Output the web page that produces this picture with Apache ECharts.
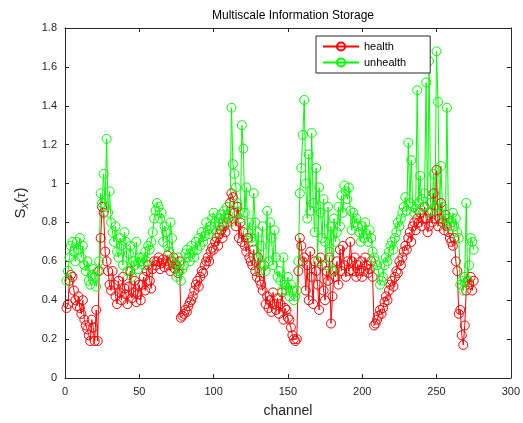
<!DOCTYPE html>
<html>
<head>
<meta charset="utf-8">
<script src="https://cdn.jsdelivr.net/npm/echarts@6/dist/echarts.min.js"></script>
<style>
  html, body { margin: 0; padding: 0; background: #fff; }
  #chart { width: 523px; height: 423px; }
</style>
</head>
<body>
<div id="chart"></div>
<script>
// values per channel, channel = index + 1
var health = [
  0.36, 0.38, 0.50, 0.53, 0.52, 0.45, 0.40, 0.37, 0.42, 0.36,
  0.33, 0.40, 0.30, 0.27, 0.25, 0.22, 0.19, 0.30, 0.26, 0.19,
  0.35, 0.19, 0.55, 0.72, 0.88, 0.85, 0.65, 0.60, 0.55, 0.48,
  0.45, 0.55, 0.48, 0.42, 0.38, 0.50, 0.44, 0.40, 0.52, 0.46,
  0.43, 0.38, 0.47, 0.55, 0.41, 0.44, 0.50, 0.39, 0.43, 0.48,
  0.40, 0.48, 0.52, 0.45, 0.55, 0.58, 0.50, 0.46, 0.56, 0.60,
  0.58, 0.60, 0.62, 0.56, 0.59, 0.61, 0.57, 0.60, 0.63, 0.58,
  0.55, 0.60, 0.62, 0.56, 0.58, 0.54, 0.60, 0.31, 0.32, 0.33,
  0.35, 0.34, 0.37, 0.39, 0.40, 0.42, 0.45, 0.48, 0.50, 0.47,
  0.52, 0.55, 0.54, 0.58, 0.60, 0.62, 0.60, 0.65, 0.67, 0.66,
  0.70, 0.72, 0.68, 0.74, 0.76, 0.72, 0.78, 0.75, 0.80, 0.82,
  0.90, 0.95, 0.93, 0.85, 0.78, 0.88, 0.72, 0.80, 0.70, 0.75,
  0.68, 0.65, 0.72, 0.62, 0.60, 0.58, 0.66, 0.55, 0.52, 0.62,
  0.50, 0.48, 0.45, 0.58, 0.38, 0.42, 0.36, 0.40, 0.34, 0.44,
  0.38, 0.35, 0.41, 0.33, 0.38, 0.44, 0.30, 0.36, 0.35, 0.31,
  0.30, 0.26, 0.22, 0.20, 0.19, 0.20, 0.55, 0.72, 0.68, 0.60,
  0.62, 0.45, 0.58, 0.40, 0.65, 0.52, 0.38, 0.60, 0.55, 0.48,
  0.35, 0.62, 0.58, 0.45, 0.40, 0.55, 0.50, 0.62, 0.28, 0.42,
  0.55, 0.52, 0.60, 0.48, 0.66, 0.55, 0.68, 0.58, 0.52, 0.60,
  0.55, 0.70, 0.60, 0.55, 0.62, 0.52, 0.58, 0.55, 0.60, 0.52,
  0.55, 0.62, 0.58, 0.54, 0.56, 0.60, 0.52, 0.27, 0.28, 0.30,
  0.32, 0.35, 0.33, 0.36, 0.39, 0.42, 0.40, 0.45, 0.48, 0.50,
  0.47, 0.52, 0.55, 0.54, 0.60, 0.58, 0.62, 0.65, 0.68, 0.66,
  0.72, 0.75, 0.70, 0.78, 0.80, 0.76, 0.82, 0.80, 0.85, 0.78,
  0.82, 0.88, 0.82, 0.75, 0.78, 0.85, 0.80, 0.95, 0.82, 1.07,
  0.78, 0.82, 0.90, 0.80, 0.76, 0.84, 0.78, 0.75, 0.72, 0.70,
  0.68, 0.72, 0.60, 0.55, 0.33, 0.35, 0.22, 0.17, 0.27, 0.45,
  0.50, 0.48, 0.52, 0.45, 0.50
];
var unhealth = [
  0.50, 0.55, 0.62, 0.68, 0.70, 0.65, 0.60, 0.70, 0.66, 0.72,
  0.62, 0.68, 0.58, 0.55, 0.60, 0.50, 0.48, 0.53, 0.56, 0.52,
  0.47, 0.55, 0.60, 0.95, 0.90, 1.05, 0.88, 1.23, 0.85, 0.96,
  0.80, 0.75, 0.70, 0.78, 0.65, 0.62, 0.72, 0.68, 0.58, 0.75,
  0.70, 0.55, 0.64, 0.68, 0.52, 0.60, 0.58, 0.70, 0.56, 0.62,
  0.60, 0.62, 0.58, 0.65, 0.60, 0.68, 0.66, 0.70, 0.75, 0.82,
  0.86, 0.90, 0.88, 0.82, 0.85, 0.70, 0.78, 0.75, 0.68, 0.65,
  0.80, 0.72, 0.60, 0.58, 0.52, 0.62, 0.55, 0.50, 0.56, 0.58,
  0.64, 0.66, 0.62, 0.60, 0.68, 0.65, 0.62, 0.70, 0.66, 0.72,
  0.68, 0.75, 0.70, 0.73, 0.80, 0.76, 0.74, 0.78, 0.82, 0.85,
  0.80, 0.75, 0.78, 0.82, 0.84, 0.80, 0.86, 0.82, 0.88, 0.84,
  0.80, 1.39, 1.10, 1.05, 0.98, 0.90, 0.85, 0.82, 1.30, 1.18,
  0.85, 0.98, 0.75, 0.80, 0.72, 0.70, 0.95, 0.80, 0.62, 0.75,
  0.55, 0.68, 0.78, 0.58, 0.55, 0.86, 0.60, 0.80, 0.72, 0.58,
  0.76, 0.62, 0.52, 0.55, 0.50, 0.45, 0.62, 0.48, 0.45, 0.52,
  0.42, 0.48, 0.45, 0.40, 0.42, 0.45, 0.60, 0.95, 1.08, 1.25,
  1.43, 1.00, 0.82, 1.15, 0.86, 1.26, 0.90, 0.75, 1.08, 0.60,
  0.98, 0.85, 0.72, 0.92, 0.70, 0.58, 0.88, 0.65, 0.78, 0.55,
  0.82, 0.70, 0.75, 0.88, 0.78, 0.94, 0.85, 0.99, 0.96, 0.92,
  0.98, 0.86, 0.76, 0.85, 0.80, 0.82, 0.78, 0.75, 0.70, 0.78,
  0.72, 0.80, 0.74, 0.70, 0.76, 0.72, 0.65, 0.62, 0.60, 0.58,
  0.55, 0.48, 0.50, 0.52, 0.58, 0.62, 0.60, 0.65, 0.68, 0.70,
  0.66, 0.72, 0.75, 0.80, 0.78, 0.82, 0.85, 0.88, 0.93, 0.86,
  1.21, 0.90, 1.12, 0.88, 0.85, 0.87, 1.48, 0.90, 1.04, 0.92,
  0.88, 0.95, 1.52, 0.85, 1.63, 0.90, 0.86, 1.05, 0.88, 1.68,
  1.42, 0.85, 1.09, 0.88, 0.80, 0.82, 1.39, 0.82, 0.78, 0.80,
  0.85, 0.78, 0.82, 0.75, 0.72, 0.48, 0.50, 0.45, 0.52, 0.90,
  0.50, 0.58, 0.72, 0.70, 0.66
];
var seriesNames = ['health', 'unhealth'];
var xTicks = [0, 50, 100, 150, 200, 250, 300];
var yTicks = [0, 0.2, 0.4, 0.6, 0.8, 1, 1.2, 1.4, 1.6, 1.8];

var ink = '#262626';
var red = '#ff0000';
var green = '#00ff00';

function pairs(arr) {
  return arr.map(function(v, i) { return [i + 1, v]; });
}

var chart = echarts.init(document.getElementById('chart'), null, { renderer: 'canvas' });

var baseAxis = {
  axisLine: { show: true, onZero: false, lineStyle: { color: ink, width: 1 } },
  axisTick: { show: true, inside: true, length: 4, lineStyle: { color: ink } },
  splitLine: { show: false }
};

function lineSeries(name, values, color) {
  return {
    name: name,
    type: 'line',
    data: pairs(values),
    symbol: 'circle',
    symbolSize: 9,
    showAllSymbol: true,
    color: color,
    lineStyle: { color: color, width: 1 },
    itemStyle: { color: 'rgba(255,255,255,0)', borderColor: color, borderWidth: 1 }
  };
}

chart.setOption({
  animation: false,
  title: {
    text: 'Multiscale Information Storage',
    left: 288,
    top: 5,
    textAlign: 'center',
    textStyle: { fontFamily: 'Liberation Sans, Arial', fontSize: 12, fontWeight: 'normal', color: '#000' }
  },
  grid: { left: 65, right: 12, top: 28, bottom: 43 },
  legend: {
    data: seriesNames,
    orient: 'vertical',
    left: 316,
    top: 36,
    backgroundColor: '#fff',
    borderColor: ink,
    borderWidth: 1,
    padding: [5, 24, 5, 6],
    itemGap: 5,
    itemWidth: 36,
    itemHeight: 10,
    textStyle: { fontFamily: 'Liberation Sans, Arial', fontSize: 11, color: '#000' }
  },
  xAxis: [
    Object.assign({}, baseAxis, {
      type: 'value', min: xTicks[0], max: xTicks[xTicks.length - 1], interval: 50,
      name: 'channel', nameLocation: 'middle', nameGap: 26,
      nameTextStyle: { fontFamily: 'Liberation Sans, Arial', fontSize: 14, color: ink },
      axisLabel: { color: ink, fontFamily: 'Liberation Sans, Arial', fontSize: 11, margin: 8 }
    }),
    Object.assign({}, baseAxis, {
      type: 'value', position: 'top', min: 0, max: 300, interval: 50,
      axisLabel: { show: false }
    })
  ],
  yAxis: [
    Object.assign({}, baseAxis, {
      type: 'value', min: yTicks[0], max: yTicks[yTicks.length - 1], interval: 0.2,
      name: '{s|S}{sub|x}{s|(}{t|τ}{s|)}', nameLocation: 'middle', nameGap: 34,
      nameTextStyle: {
        color: ink,
        rich: {
          s: { fontFamily: 'Liberation Sans, Arial', fontSize: 15, color: ink },
          sub: { fontFamily: 'Liberation Sans, Arial', fontSize: 11, color: ink, fontStyle: 'italic', verticalAlign: 'bottom', padding: [8, 0, 0, 0] },
          t: { fontFamily: 'Liberation Serif, Times New Roman', fontSize: 15, fontStyle: 'italic', color: ink }
        }
      },
      axisLabel: {
        color: ink, fontFamily: 'Liberation Sans, Arial', fontSize: 11, margin: 8,
        formatter: function(v) { return String(Math.round(v * 10) / 10); }
      }
    }),
    Object.assign({}, baseAxis, {
      type: 'value', position: 'right', min: 0, max: 1.8, interval: 0.2,
      axisLabel: { show: false }
    })
  ],
  series: [
    lineSeries(seriesNames[0], health, red),
    lineSeries(seriesNames[1], unhealth, green)
  ]
});
</script>
</body>
</html>
